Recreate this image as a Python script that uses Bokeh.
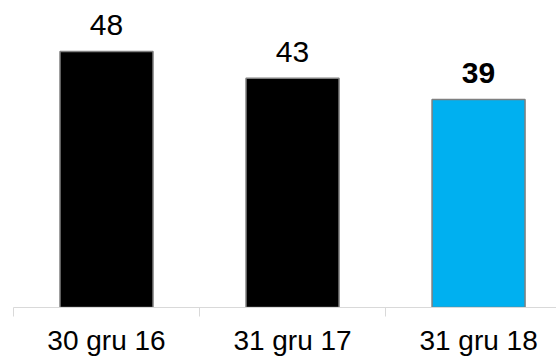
from bokeh.plotting import figure
from bokeh.models import ColumnDataSource, Range1d, FixedTicker
from bokeh.core.properties import value, field
from bokeh.embed import file_html
from bokeh.resources import INLINE

# Data
categories = ["30 gru 16", "31 gru 17", "31 gru 18"]
values = [48, 43, 39]
value_labels = ["48", "43", "39"]

# Styling
bar_colors = ["#000000", "#000000", "#00B0F0"]
label_styles = ["normal", "normal", "bold"]
FONT = "Liberation Sans"

xs = [i + 0.5 for i in range(len(categories))]

source = ColumnDataSource(dict(
    x=xs, top=values, color=bar_colors, label=value_labels, style=label_styles,
))

p = figure(
    width=556, height=358,
    x_range=Range1d(0, 2.919), y_range=Range1d(0, 57.56),
    output_backend="svg", toolbar_location=None,
    min_border_left=13, min_border_right=0, min_border_top=0, min_border_bottom=51,
)
p.outline_line_color = None
p.background_fill_color = "white"
p.border_fill_color = "white"
p.xgrid.visible = False
p.ygrid.visible = False
p.yaxis.visible = False

p.vbar(x="x", top="top", bottom=0, width=0.5, source=source,
       fill_color="color", line_color="#7F7F7F", line_width=1.5)

p.text(x="x", y="top", text="label", source=source,
       text_font=value(FONT), text_font_size="30px", text_font_style=field("style"),
       text_align="center", text_baseline="bottom", y_offset=-16,
       text_color="#000000")

ax = p.xaxis[0]
ax.ticker = FixedTicker(ticks=xs, minor_ticks=list(range(len(categories) + 1)))
ax.major_label_overrides = {x: c for x, c in zip(xs, categories)}
ax.major_tick_in = 0
ax.major_tick_out = 0
ax.minor_tick_in = 0
ax.minor_tick_out = 9
ax.minor_tick_line_color = "#D9D9D9"
ax.axis_line_color = "#D9D9D9"
ax.axis_line_width = 1
ax.major_label_standoff = 8
ax.major_label_text_font = FONT
ax.major_label_text_font_size = "28px"
ax.major_label_text_color = "#000000"

open("out.html", "w").write(file_html(p, INLINE))
